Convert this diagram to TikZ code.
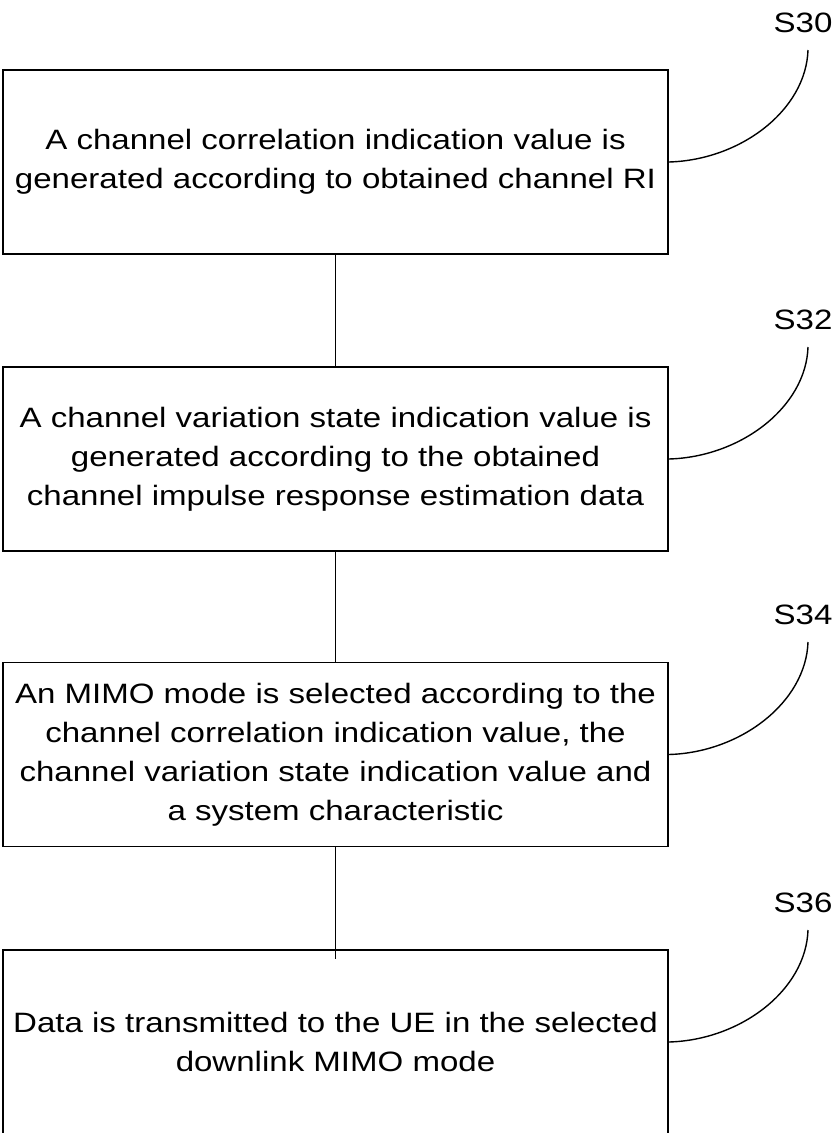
\documentclass[tikz,border=0pt]{standalone}
\usepackage{fontspec}
\newfontfamily\boxfont[FakeStretch=1.18]{Liberation Sans}
\begin{document}
\begin{tikzpicture}[x=1pt,y=-1pt,
  stepbox/.style={draw, line width=1.8pt, minimum width=665pt, minimum height=184pt,
    inner sep=0pt, align=center, font=\boxfont\fontsize{28}{39}\selectfont},
  steplabel/.style={font=\boxfont\fontsize{28}{39}\selectfont, inner sep=0pt},
  link/.style={line width=1.5pt},
  leader/.style={line width=1.4pt}]
\clip (0,0) rectangle (836,1133);
\node[stepbox] (b1) at (335.5,162) {A channel correlation indication value is\\generated according to obtained channel RI};
\node[stepbox] (b2) at (335.5,459) {A channel variation state indication value is\\generated according to the obtained\\channel impulse response estimation data};
\node[stepbox] (b3) at (335.5,754.5) {An MIMO mode is selected according to the\\channel correlation indication value, the\\channel variation state indication value and\\a system characteristic};
\node[stepbox] (b4) at (335.5,1042) {Data is transmitted to the UE in the selected\\downlink MIMO mode};
\draw[link] (b1.south) -- (b2.north);
\draw[link] (b2.south) -- (b3.north);
\draw[link] (b3.south) -- ([yshift=-10pt]b4.north);
\node[steplabel] (l1) at (803,23) {S30};
\node[steplabel] (l2) at (803,320) {S32};
\node[steplabel] (l3) at (803,615) {S34};
\node[steplabel] (l4) at (803,903) {S36};
\coordinate (c1) at (808,50);
\coordinate (c2) at (808,347);
\coordinate (c3) at (808,642);
\coordinate (c4) at (808,930);
\draw[leader] (c1) .. controls +(-2,60) and +(72,-2) .. (b1.east);
\draw[leader] (c2) .. controls +(-2,60) and +(72,-2) .. (b2.east);
\draw[leader] (c3) .. controls +(-2,60) and +(72,-2) .. (b3.east);
\draw[leader] (c4) .. controls +(-2,60) and +(72,-2) .. (b4.east);
\end{tikzpicture}
\end{document}
